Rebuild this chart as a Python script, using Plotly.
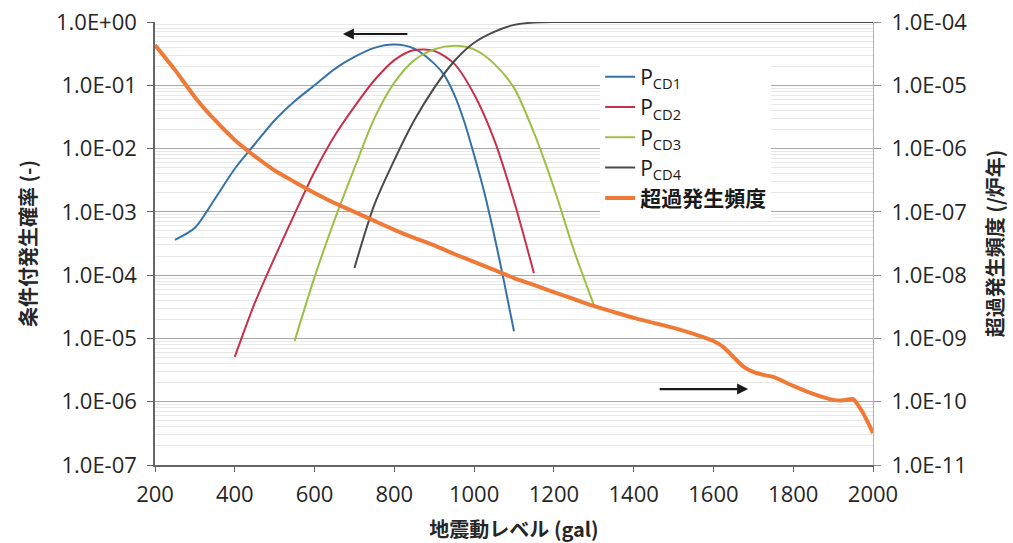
import plotly.graph_objects as go

# Conditional failure probabilities per damage state (left axis)
gal_cd1 = [250, 300, 350, 400, 450, 500, 550, 600, 650, 700, 750, 800, 850, 900,
           925, 950, 975, 1000, 1025, 1050, 1075, 1100]
p_cd1 = [3.6e-4, 5.6e-4, 1.6e-3, 4.8e-3, 1.17e-2, 2.8e-2, 5.6e-2, 0.10, 0.18, 0.28,
         0.39, 0.44, 0.38, 0.22, 0.145, 0.072, 2.7e-2, 7.9e-3, 2.1e-3, 4.4e-4,
         7.9e-5, 1.3e-5]

gal_cd2 = [400, 450, 500, 550, 600, 650, 700, 750, 800, 850, 900, 950, 1000, 1050,
           1100, 1150]
p_cd2 = [5.1e-6, 3.6e-5, 1.9e-4, 9.3e-4, 4.3e-3, 1.58e-2, 4.6e-2, 0.12, 0.25, 0.36,
         0.35, 0.22, 0.072, 1.4e-2, 1.48e-3, 1.07e-4]

gal_cd3 = [550, 600, 650, 700, 750, 800, 850, 900, 950, 1000, 1050, 1100, 1150, 1200,
           1250, 1300]
p_cd3 = [9.1e-6, 9.3e-5, 7.4e-4, 4.9e-3, 3.0e-2, 0.11, 0.25, 0.37, 0.42, 0.37, 0.22,
         0.091, 1.78e-2, 2.4e-3, 2.5e-4, 3.4e-5]

gal_cd4 = [700, 750, 800, 850, 900, 950, 1000, 1050, 1100, 1150, 1200, 1300, 1400,
           1500, 1600, 1700, 1800, 1900, 2000]
p_cd4 = [1.3e-4, 1.3e-3, 6.6e-3, 2.8e-2, 9.1e-2, 0.24, 0.47, 0.70, 0.90, 0.98, 1.0,
         1.0, 1.0, 1.0, 1.0, 1.0, 1.0, 1.0, 1.0]

# Annual exceedance frequency of the ground motion (right axis)
gal_hazard = [200, 250, 300, 350, 400, 450, 500, 550, 600, 650, 700, 750, 800, 850,
              900, 950, 1000, 1050, 1100, 1150, 1200, 1250, 1300, 1350, 1400, 1450,
              1500, 1550, 1600, 1625, 1650, 1675, 1700, 1725, 1750, 1800, 1850, 1900,
              1925, 1950, 1975, 2000]
freq_hazard = [4.33e-5, 1.75e-5, 6.5e-6, 2.83e-6, 1.37e-6, 7.6e-7, 4.5e-7, 2.97e-7,
               1.99e-7, 1.38e-7, 1.0e-7, 7.2e-8, 5.2e-8, 3.87e-8, 2.95e-8, 2.16e-8,
               1.62e-8, 1.21e-8, 9.0e-9, 7.0e-9, 5.4e-9, 4.2e-9, 3.26e-9, 2.62e-9,
               2.11e-9, 1.76e-9, 1.47e-9, 1.18e-9, 9.1e-10, 7.3e-10, 5.1e-10, 3.6e-10,
               2.96e-10, 2.65e-10, 2.46e-10, 1.78e-10, 1.33e-10, 1.07e-10, 1.05e-10,
               1.1e-10, 6.65e-11, 3.2e-11]

left_tickvals = [1e0, 1e-1, 1e-2, 1e-3, 1e-4, 1e-5, 1e-6, 1e-7]
left_ticktext = ["1.0E+00", "1.0E-01", "1.0E-02", "1.0E-03", "1.0E-04", "1.0E-05",
                 "1.0E-06", "1.0E-07"]
right_tickvals = [1e-4, 1e-5, 1e-6, 1e-7, 1e-8, 1e-9, 1e-10, 1e-11]
right_ticktext = ["1.0E-04", "1.0E-05", "1.0E-06", "1.0E-07", "1.0E-08", "1.0E-09",
                  "1.0E-10", "1.0E-11"]

series_names = ["P<sub>CD1</sub>", "P<sub>CD2</sub>", "P<sub>CD3</sub>", "P<sub>CD4</sub>"]
hazard_name = "<b>超過発生頻度</b>"

colors = ["#3572a8", "#c8304a", "#9cbf45", "#4a4a4a"]
hazard_color = "#ef7a38"

TICK_FONT = dict(family="Open Sans, Noto Sans CJK JP", size=22, color="#262626")
TITLE_FONT = dict(family="Noto Sans CJK JP", size=20, color="#262626")

fig = go.Figure()
for xs, ys, name, col in zip([gal_cd1, gal_cd2, gal_cd3, gal_cd4],
                             [p_cd1, p_cd2, p_cd3, p_cd4], series_names, colors):
    fig.add_trace(go.Scatter(x=xs, y=ys, name=name, mode="lines",
                             line=dict(color=col, width=2, shape="spline", smoothing=0.8),
                             yaxis="y"))

fig.add_trace(go.Scatter(x=gal_hazard, y=freq_hazard, name=hazard_name, mode="lines",
                         line=dict(color=hazard_color, width=4, shape="spline", smoothing=0.6),
                         yaxis="y2"))

fig.update_layout(
    width=1013, height=543,
    margin=dict(l=155, r=140, t=22, b=78),
    paper_bgcolor="white", plot_bgcolor="white",
    xaxis=dict(range=[200, 2000], dtick=200, tick0=200, showgrid=False, automargin=False,
               showline=True, linecolor="#666666", linewidth=1.5,
               ticks="outside", ticklen=5, tickcolor="#666666",
               tickfont=TICK_FONT, ticklabelstandoff=4,
               title=dict(text="<b>地震動レベル (gal)</b>", font=TITLE_FONT, standoff=16)),
    yaxis=dict(type="log", range=[-7, 0], tickvals=left_tickvals, ticktext=left_ticktext,
               automargin=False,
               showgrid=True, gridcolor="#a8a8a8", gridwidth=1,
               minor=dict(showgrid=True, gridcolor="#e8e8e8", dtick="D1"),
               showline=True, linecolor="#666666", linewidth=1.5,
               ticks="outside", ticklen=6, tickcolor="#666666",
               tickfont=TICK_FONT, ticklabelstandoff=6, zeroline=False,
               title=dict(text="<b>条件付発生確率 (-)</b>", font=TITLE_FONT, standoff=14)),
    yaxis2=dict(type="log", range=[-11, -4], tickvals=right_tickvals, ticktext=right_ticktext,
                overlaying="y", side="right", showgrid=False, automargin=False,
                showline=True, linecolor="#b0b0b0", linewidth=1,
                ticks="outside", ticklen=7, tickcolor="#909090",
                tickfont=TICK_FONT, ticklabelstandoff=6, zeroline=False,
                title=dict(text="<b>超過発生頻度 (/炉年)</b>", font=TITLE_FONT, standoff=22)),
    legend=dict(x=0.62, y=0.922, xanchor="left", yanchor="top",
                bgcolor="white", borderwidth=0,
                font=dict(family="Open Sans, Noto Sans CJK JP", size=21, color="#1a1a1a"),
                tracegroupgap=0),
    showlegend=True,
)

# Direction arrows indicating which axis each group of curves uses
fig.add_annotation(x=671, y=-0.19, xref="x", yref="y", ax=66, ay=0,
                   showarrow=True, arrowhead=2, arrowsize=1, arrowwidth=2.2,
                   arrowcolor="#1a1a1a", text="")
fig.add_annotation(x=1687, y=-5.8, xref="x", yref="y", ax=-90, ay=0,
                   showarrow=True, arrowhead=2, arrowsize=1, arrowwidth=2.2,
                   arrowcolor="#1a1a1a", text="")

fig.write_html("out.html")
